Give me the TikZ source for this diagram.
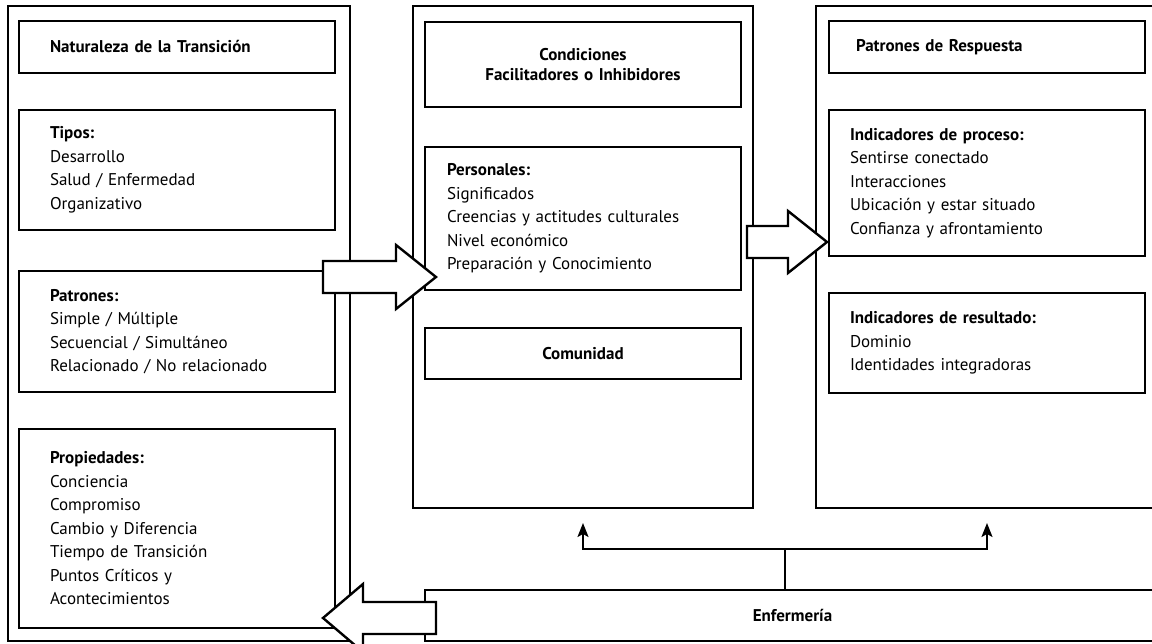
\documentclass[tikz,border=0pt]{standalone}
\usepackage{fontspec}
\setmainfont{PT Sans}
\usepackage{tikz}
\usetikzlibrary{arrows.meta, positioning, calc}

\begin{document}
\begin{tikzpicture}[
    x=1pt, y=-1pt,
    every node/.style={font=\fontsize{17}{23.5}\selectfont},
    marco/.style={rectangle, draw, line width=2.4pt, anchor=north west, outer sep=0pt},
    caja/.style={rectangle, draw, line width=2.4pt, anchor=north west, outer sep=0pt, minimum width=316pt, inner ysep=0pt, align=left},
    cajaI/.style={caja, inner xsep=31pt, text width=254pt},
    cajaM/.style={caja, inner xsep=22pt, text width=272pt},
    cajaD/.style={caja, inner xsep=21pt, text width=274pt},
    flechagrande/.style={draw, line width=2.4pt, fill=white, line join=miter},
    conector/.style={line width=2pt},
    flechita/.style={line width=2pt, -{Stealth[length=14pt, width=11pt, inset=3pt]}}
]
\useasboundingbox (0,0) rectangle (1152,644);

% columnas
\node[marco, minimum width=342pt, minimum height=635pt] (natur) at (8,6) {};
\node[marco, minimum width=340pt, minimum height=502pt] (cond) at (413,6) {};
\node[marco, minimum width=350pt, minimum height=502pt] (resp) at (816,6) {};

% naturaleza de la transicion
\node[cajaI, minimum height=52pt] (naturTit) at (19,21) {\textbf{Naturaleza de la Transición}};
\node[cajaI, minimum height=120pt] (tipos) at (19,110) {\textbf{Tipos:}\\Desarrollo\\Salud / Enfermedad\\Organizativo};
\node[cajaI, minimum height=121pt] (patrones) at (19,271) {\textbf{Patrones:}\\Simple / Múltiple\\Secuencial / Simultáneo\\Relacionado / No relacionado};
\node[cajaI, minimum height=199pt] (propiedades) at (19,429) {\textbf{Propiedades:}\\Conciencia\\Compromiso\\Cambio y Diferencia\\Tiempo de Transición\\Puntos Críticos y\\Acontecimientos};

% condiciones
\node[cajaM, align=center, minimum height=85pt, font=\fontsize{17}{20}\selectfont] (condTit) at (425,22) {\textbf{Condiciones}\\\textbf{Facilitadores o Inhibidores}};
\node[cajaM, minimum height=143pt] (personales) at (425,147) {\textbf{Personales:}\\Significados\\Creencias y actitudes culturales\\Nivel económico\\Preparación y Conocimiento};
\node[cajaM, align=center, minimum height=51pt] (comunidad) at (425,328) {\textbf{Comunidad}};

% patrones de respuesta
\node[cajaD, inner xsep=27pt, text width=262pt, minimum height=52pt] (respTit) at (829,21) {\textbf{Patrones de Respuesta}};
\node[cajaD, minimum height=146pt] (proceso) at (829,110) {\textbf{Indicadores de proceso:}\\Sentirse conectado\\Interacciones\\Ubicación y estar situado\\Confianza y afrontamiento};
\node[cajaD, minimum height=100pt] (resultado) at (829,293) {\textbf{Indicadores de resultado:}\\Dominio\\Identidades integradoras};

% enfermeria
\node[marco, minimum width=735pt, minimum height=51pt] (enfermeria) at (425,590) {\textbf{Enfermería}};

% flechas grandes
\draw[flechagrande] (323,261) -- (396,261) -- (396,245) -- (436,277) -- (396,309) -- (396,293) -- (323,293) -- cycle;
\draw[flechagrande] (747,226) -- (788,226) -- (788,211) -- (827,242) -- (788,273) -- (788,258) -- (747,258) -- cycle;
\draw[flechagrande] (436,602) -- (363,602) -- (363,584) -- (323,618) -- (363,652) -- (363,634) -- (436,634) -- cycle;

% conectores
\coordinate (cruce) at (785,549);
\coordinate (puntaC) at (583,523);
\coordinate (puntaR) at (987,523);
\draw[conector] (cruce |- enfermeria.north) -- (cruce);
\draw[flechita] (cruce) -| (puntaC);
\draw[flechita] (cruce) -| (puntaR);
\end{tikzpicture}
\end{document}
